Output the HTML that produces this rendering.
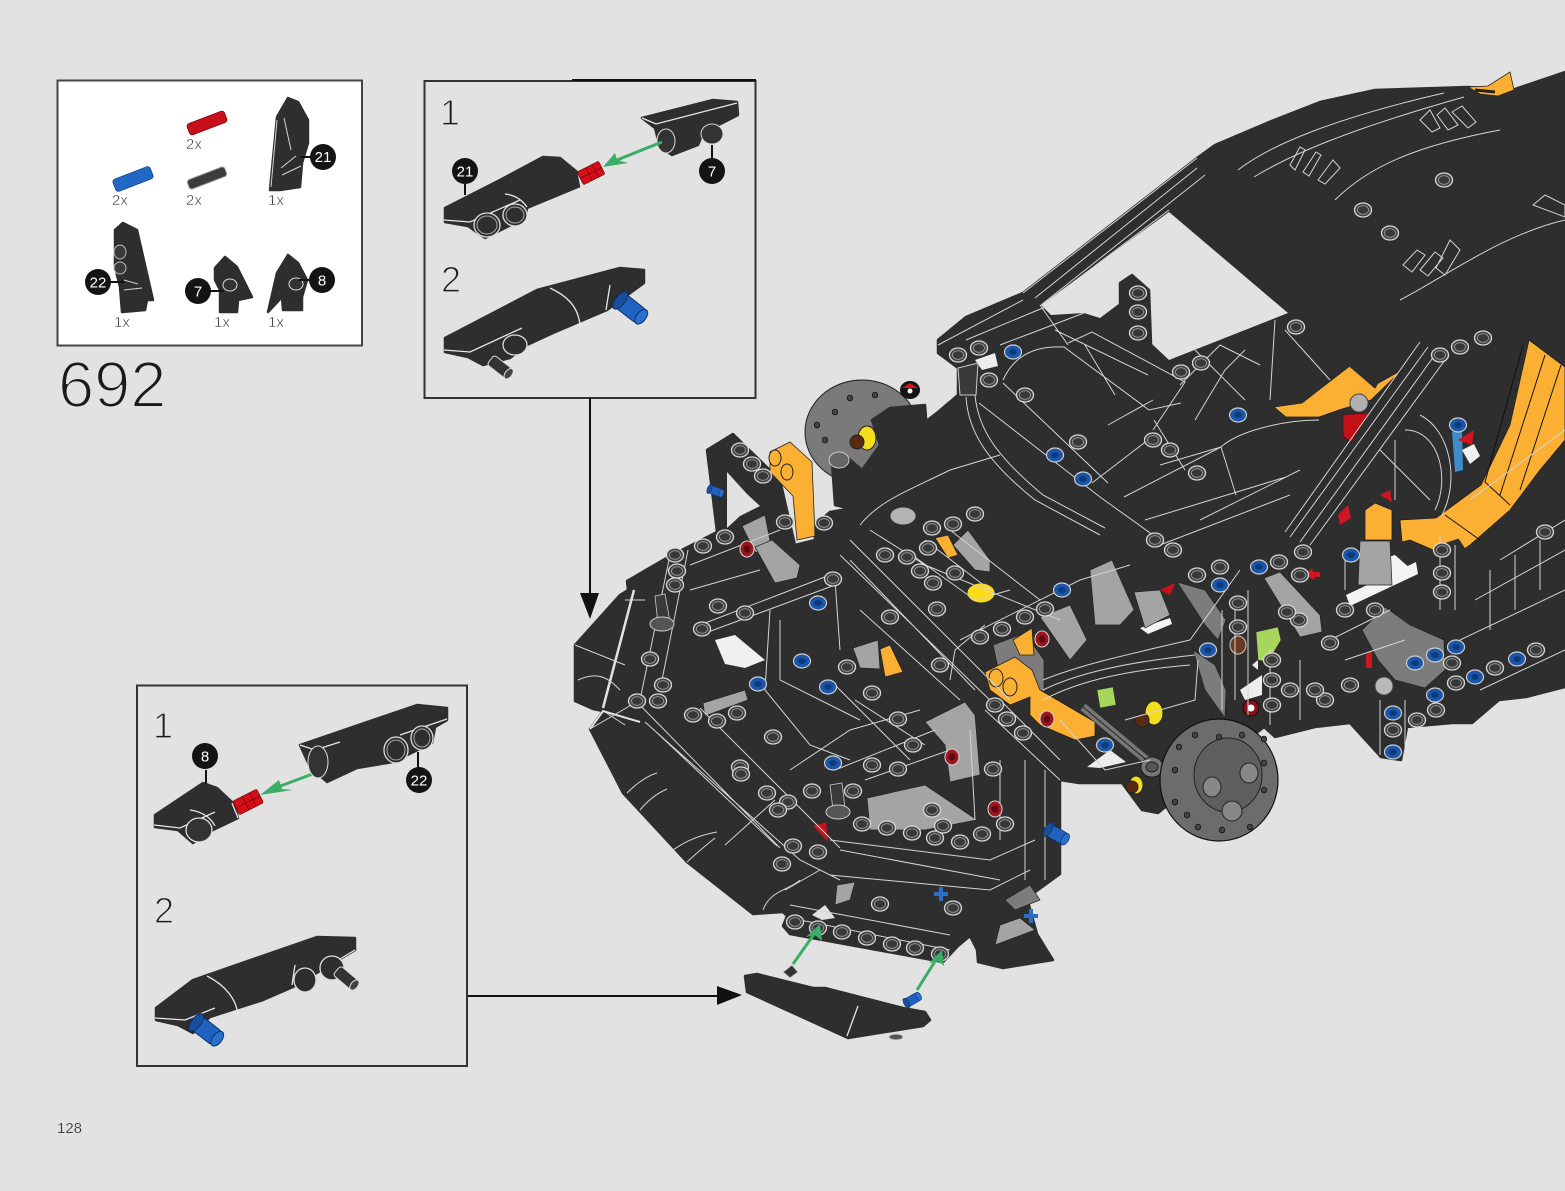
<!DOCTYPE html>
<html lang="en"><head><meta charset="utf-8"><title>692</title>
<style>
html,body{margin:0;padding:0;background:#e2e2e2}
svg{display:block}
text{font-family:"Liberation Sans",sans-serif}
.th{stroke:#e2e2e2}
.n{fill:#1a1a1a}
.q{font-size:15px;fill:#333;stroke:#fff;stroke-width:.4}
.c{font-size:15px;fill:#fff;text-anchor:middle}
.l{fill:none;stroke:#d4d4d4;stroke-width:1}
.w{fill:none;stroke:#e8e8e8;stroke-width:1.3}
.k{fill:none;stroke:#111;stroke-width:1}
.d{fill:#2e2e2e;stroke:#2e2e2e;stroke-width:2.500;stroke-linejoin:round}
.o{fill:#fbb034;stroke:#222;stroke-width:.8}
.g{fill:#a4a4a4;stroke:#222;stroke-width:.7}
.m{fill:#7c7c7c;stroke:#222;stroke-width:.7}
</style></head>
<body>
<svg width="1565" height="1191" viewBox="0 0 1565 1191" xmlns="http://www.w3.org/2000/svg">
<defs>
<g id="h"><ellipse rx="8.500" ry="7" fill="#444" stroke="#d8d8d8" stroke-width="1.3"/><ellipse rx="5.500" ry="4.300" fill="#383838" stroke="#a0a0a0" stroke-width=".8"/></g>
<g id="b"><ellipse rx="8.500" ry="7" fill="#1c56a8" stroke="#cfcfcf" stroke-width="1.2"/><ellipse rx="3.800" ry="3" fill="#0d3a7d"/></g>
<g id="r"><ellipse rx="7" ry="8" fill="#9c1520" stroke="#cfcfcf" stroke-width="1.1"/><ellipse rx="3.300" ry="3.800" fill="#5d0b12"/></g>
<g id="t"><ellipse rx="2.700" ry="2.900" fill="#444" stroke="#111" stroke-width=".8"/></g>
<g id="bp"><rect x="-13" y="-9" width="28" height="18" rx="4" fill="#1f62c0" stroke="#0a2f66"/><ellipse cx="-13" cy="0" rx="5" ry="11" fill="#184f9e" stroke="#0a2f66"/><ellipse cx="15" cy="0" rx="5" ry="9" fill="#2a70cc" stroke="#0a2f66"/></g>
<g id="rp"><rect x="-15" y="-9" width="30" height="18" rx="2" fill="#d40f18" stroke="#600" stroke-width=".8"/><path d="M-15 0H15M-3 -9V9M6 -9V9" stroke="#7c0008" stroke-width=".8"/></g>
</defs>
<rect width="1565" height="1191" fill="#e2e2e2"/>

<!-- parts box -->
<rect x="57.500" y="80.500" width="304.500" height="265" fill="#fff" stroke="#444" stroke-width="2"/>
<g>
<g transform="translate(207 123) rotate(-21)"><rect x="-20" y="-6" width="40" height="12" rx="3" fill="#c8101a" stroke="#7c0008" stroke-width=".7"/></g>
<g transform="translate(133 179) rotate(-21)"><rect x="-20" y="-6.500" width="40" height="13" rx="3" fill="#2168c6" stroke="#0c3c80" stroke-width=".7"/></g>
<g transform="translate(207 178) rotate(-21)"><rect x="-20" y="-5" width="40" height="10" rx="3" fill="#3c3c3c" stroke="#999" stroke-width="1"/></g>
<path class="d" d="M270 190 L277 117 L288 98 L298 102 L308 120 L308 143 L302 163 L300 187 L280 190 Z"/>
<path class="l" d="M284 118 L291 150 M281 168 L296 156 M282 175 L301 166 M271 187 L277 120"/>
<path class="d" d="M115 230 L123 223 L137 230 L153 300 L147 300 L145 310 L122 312 L120 287 L115 267 Z"/>
<ellipse cx="120" cy="252" rx="6" ry="7" fill="#3a3a3a" stroke="#bbb"/><ellipse cx="120" cy="268" rx="6" ry="6" fill="#3a3a3a" stroke="#bbb"/>
<path class="l" d="M124 280 L138 284 M124 290 L142 288"/>
<path class="d" d="M215 268 L225 257 L237 267 L252 297 L238 300 L237 312 L220 312 L220 290 L215 280 Z"/>
<ellipse cx="230" cy="285" rx="7" ry="6" fill="#333" stroke="#ddd"/>
<path class="d" d="M268 312 L277 273 L288 255 L298 263 L307 280 L302 297 L302 310 L283 310 L282 297 Z"/>
<ellipse cx="296" cy="284" rx="7" ry="6" fill="#333" stroke="#ddd"/>
<path stroke="#111" stroke-width="2" d="M300 157H312M108 282H124M208 291H224M298 280H312"/>
<circle cx="323" cy="157" r="13" fill="#141414"/><text class="c" x="323" y="162">21</text>
<circle cx="98" cy="282" r="13" fill="#141414"/><text class="c" x="98" y="287.500">22</text>
<circle cx="198" cy="291" r="13" fill="#141414"/><text class="c" x="198" y="296.500">7</text>
<circle cx="322" cy="280" r="13" fill="#141414"/><text class="c" x="322" y="285.500">8</text>
<text class="q" x="186" y="149">2x</text><text class="q" x="112" y="205">2x</text><text class="q" x="186" y="205">2x</text><text class="q" x="268" y="205">1x</text>
<text class="q" x="114" y="327">1x</text><text class="q" x="214" y="327">1x</text><text class="q" x="268" y="327">1x</text>
</g>
<text x="58" y="407" font-size="65" class="n th" stroke-width="2">692</text>
<text x="57" y="1133" font-size="15" fill="#222" stroke="#e2e2e2" stroke-width=".3">128</text>

<!-- step box 1 -->
<rect x="424.500" y="81" width="331" height="317" fill="none" stroke="#333" stroke-width="2"/>
<path d="M572 80H756" stroke="#111" stroke-width="2"/>
<text x="440" y="125" font-size="36" class="n th" stroke-width="1.200">1</text>
<text x="441" y="292" font-size="36" class="n th" stroke-width="1.200">2</text>
<path class="d" d="M445 208 L500 180 L543 157 L560 158 L577 172 L580 186 L527 208 L525 218 L485 238 L468 226 L445 222 Z"/>
<path class="w" d="M444 220 L470 222 L520 200 M505 194 C515 195 522 200 527 207 M578 172 L581 187"/>
<ellipse cx="487" cy="225" rx="13" ry="12" fill="#2e2e2e" stroke="#ddd" stroke-width="1.3"/><ellipse cx="487" cy="225" rx="10" ry="9" fill="#2e2e2e" stroke="#aaa"/><ellipse cx="515" cy="215" rx="12" ry="11" fill="#2e2e2e" stroke="#ddd" stroke-width="1.3"/><ellipse cx="515" cy="215" rx="9" ry="8" fill="#2e2e2e" stroke="#aaa"/>
<use href="#rp" transform="translate(591 173) rotate(-27) scale(.8)"/>
<path class="d" d="M642 118 L713 100 L737 102 L738 115 L703 133 L698 145 L672 155 L660 147 L655 128 Z"/>
<ellipse cx="666" cy="141" rx="9" ry="12" fill="#333" stroke="#ddd"/><ellipse cx="712" cy="134" rx="11" ry="10" fill="#333" stroke="#ddd"/>
<path class="w" d="M642 118 L656 124 L737 103"/>
<path d="M662 142 L612 162" stroke="#3aae66" stroke-width="3"/><path d="M603 167 L615 153 L617 160 L628 163 Z" fill="#3aae66"/>
<path stroke="#111" stroke-width="2" d="M465 184V195M712 145V158M590 398V598M467 996H720"/>
<circle cx="465" cy="171" r="13" fill="#141414"/><text class="c" x="465" y="176.500">21</text>
<circle cx="712" cy="171" r="13" fill="#141414"/><text class="c" x="712" y="176.500">7</text>

<path class="d" d="M445 338 L537 290 L620 268 L644 270 L644 283 L607 310 L553 333 L527 345 L510 358 L483 365 L468 357 L445 352 Z"/>
<path class="w" d="M444 350 L470 352 L522 328 M550 288 C565 295 578 305 580 325 M610 285 L606 310"/>
<ellipse cx="515" cy="345" rx="12" ry="10" fill="#2e2e2e" stroke="#ddd" stroke-width="1.3"/>
<g transform="translate(500 367) rotate(38)"><rect x="-12" y="-6" width="24" height="12" rx="3" fill="#333" stroke="#ddd"/><ellipse cx="11" cy="0" rx="3.500" ry="6" fill="#444" stroke="#ddd"/></g>
<use href="#bp" transform="translate(630 308) rotate(38) scale(.95)"/>

<!-- step box 2 -->
<rect x="137" y="685.500" width="330" height="380.500" fill="none" stroke="#333" stroke-width="2"/>
<text x="153" y="738" font-size="36" class="n th" stroke-width="1.200">1</text>
<text x="154" y="923" font-size="36" class="n th" stroke-width="1.200">2</text>
<path class="d" d="M155 815 L203 783 L217 788 L233 803 L238 818 L213 830 L193 843 L178 830 L155 827 Z"/>
<path class="w" d="M154 825 L180 828 L215 812 M190 810 C205 812 212 820 215 826 M232 803 L238 818"/>
<ellipse cx="199" cy="830" rx="13" ry="12" fill="#333" stroke="#ddd" stroke-width="1.3"/>
<use href="#rp" transform="translate(248 802) rotate(-27) scale(.9 .85)"/>
<path d="M323 770 L270 790" stroke="#3aae66" stroke-width="3"/><path d="M260 795 L279 780 L282 789 L293 790 Z" fill="#3aae66"/>
<path class="d" d="M300 745 L417 705 L447 708 L447 720 L435 727 L432 743 L393 762 L357 768 L327 782 L310 767 Z"/>
<path class="w" d="M300 745 L315 750 L340 742 M400 735 L447 719"/>
<ellipse cx="318" cy="762" rx="10" ry="16" fill="#333" stroke="#ddd"/>
<ellipse cx="396" cy="750" rx="12" ry="13" fill="#2e2e2e" stroke="#ddd" stroke-width="1.3"/><ellipse cx="396" cy="750" rx="9" ry="10" fill="#2e2e2e" stroke="#aaa"/><ellipse cx="422" cy="738" rx="11" ry="12" fill="#2e2e2e" stroke="#ddd" stroke-width="1.3"/><ellipse cx="422" cy="738" rx="8" ry="9" fill="#2e2e2e" stroke="#aaa"/>
<path stroke="#111" stroke-width="2" d="M206 770V784M418 752V768"/>
<circle cx="205" cy="756" r="13" fill="#141414"/><text class="c" x="205" y="761.500">8</text>
<circle cx="419" cy="780" r="13" fill="#141414"/><text class="c" x="419" y="785.500">22</text>
<path class="d" d="M156 1008 L193 980 L317 937 L355 938 L355 950 L330 965 L293 987 L263 1000 L210 1017 L193 1033 L178 1025 L156 1020 Z"/>
<path class="w" d="M155 1018 L185 1020 L215 1008 M207 976 C225 985 238 1000 238 1018 M295 965 L292 985 M355 950 L330 965"/>
<ellipse cx="305" cy="980" rx="11" ry="12" fill="#2e2e2e" stroke="#ddd" stroke-width="1.3"/><ellipse cx="332" cy="968" rx="12" ry="12" fill="#2e2e2e" stroke="#ddd" stroke-width="1.3"/>
<g transform="translate(346 978) rotate(40)"><rect x="-12" y="-6" width="24" height="12" rx="3" fill="#333" stroke="#ddd"/><ellipse cx="11" cy="0" rx="3.500" ry="6" fill="#444" stroke="#ddd"/></g>
<use href="#bp" transform="translate(206 1030) rotate(38) scale(.95)"/>

<!-- arrows -->
<path d="M580 593 L599 593 L590 619 Z" fill="#111"/>
<path d="M717 986 L742 995 L717 1005 Z" fill="#111"/>

<!-- rotor back -->
<ellipse cx="862" cy="432" rx="57" ry="52" fill="#7a7a7a" stroke="#222"/>
<use href="#t" x="825" y="440"/><use href="#t" x="835" y="412"/><use href="#t" x="817" y="425"/><use href="#t" x="875" y="395"/><use href="#t" x="850" y="398"/>

<!-- model silhouette -->
<path class="d" d="M1565 72 L1512 90 L1468 87 L1375 90 L1320 102 L1274 120 L1215 145 L1197 158 L1023 293 L966 317 L938 340 L938 353 L958 368 L958 395 L938 412 L925 422 L925 455 L880 470 L853 508 L830 512 L815 525 L815 540 L795 545 L780 480 L733 434 L707 450 L717 532 L670 556 L627 581 L628 590 L620 595 L575 645 L575 701 L593 709 L603 711 L590 729 L623 793 L687 862 L753 914 L783 912 L787 916 L783 926 L790 934 L943 962 L958 946 L970 936 L977 950 L978 962 L1003 968 L1053 960 L1037 934 L1027 898 L1060 874 L1060 780 L1079 783 L1122 783 L1142 810 L1158 813 L1264 727 L1275 737 L1315 727 L1350 723 L1381 757 L1401 760 L1407 727 L1452 723 L1472 723 L1499 700 L1526 697 L1565 687 Z"/>
<!-- dark frame over the rear rotor -->
<path class="d" d="M872 420 L890 408 L925 405 L930 470 L880 480 L855 510 L835 505 L832 462 L848 458 L862 470 L880 445 Z"/>
<ellipse cx="839" cy="460" rx="10" ry="8" fill="#666" stroke="#ccc"/>

<!-- see-through gaps -->
<path fill="#e2e2e2" d="M1169 212 L1288 313 L1169 360 L1151 343 L1149 290 L1132 275 L1120 283 L1120 303 L1100 318 L1084 313 L1051 315 L1041 305 Z"/>
<path class="d" d="M1120 283 L1132 275 L1149 290 L1151 343 L1138 345 L1120 303 Z"/>
<path fill="#e2e2e2" d="M727 472 L747 494 L760 506 L740 516 L727 528 Z"/>
<path fill="#f0f0f0" d="M715 640 L735 635 L765 660 L745 668 L725 664 Z"/>
<path fill="#e2e2e2" d="M812 915 L825 905 L835 918 L822 920 Z"/>
<path fill="none" stroke="#e2e2e2" stroke-width="2.500" d="M634 590 L603 708"/>
<path fill="none" stroke="#e2e2e2" stroke-width="2" d="M590 729 L603 711 L640 722"/>
<path fill="#ededed" d="M975 360 L995 353 L998 366 L982 370 Z"/>
<path fill="#f4f4f4" d="M1346 595 L1416 562 L1418 574 L1350 606 Z"/>
<path fill="#f4f4f4" d="M1378 560 L1395 555 L1412 570 L1385 580 Z"/>
<path fill="#f4f4f4" d="M1140 628 L1170 618 L1172 624 L1148 634 Z"/>
<path fill="#ececec" d="M1087 767 L1110 750 L1126 762 L1100 768 Z"/>
<path fill="#ededed" d="M1252 665 L1258 660 L1258 670 Z M1240 690 L1262 675 L1262 695 L1245 700 Z"/>

<!-- colour regions -->
<path class="o" d="M1529 340 L1565 367 L1565 440 L1540 470 L1510 510 L1470 545 L1452 558 L1410 540 L1402 542 L1400 520 L1436 518 L1481 485 L1510 425 Z"/>
<path class="k" d="M1523 345 L1485 482 L1510 505 M1545 355 L1500 495 M1561 365 L1520 490 M1445 515 L1480 540"/>
<path class="o" d="M1274 407 L1302 403 L1351 365 L1375 385 L1402 370 L1371 400 L1339 410 L1319 417 L1286 417 Z"/>
<path class="d" d="M1173 203 L1189 192 L1400 333 L1375 387 L1347 363 Z"/>
<path class="d" d="M1440 546 L1458 540 L1468 555 L1462 620 L1434 620 Z" />
<path class="o" d="M1365 510 L1375 503 L1392 510 L1392 540 L1365 540 Z"/>
<path class="g" d="M1360 541 L1390 541 L1392 585 L1358 585 Z"/>
<path d="M1343 415 L1369 413 L1351 442 L1343 436 Z" fill="#c30f18" stroke="#600" stroke-width=".6"/>
<circle cx="1359" cy="403" r="9" fill="#b0b0b0" stroke="#444"/>
<path fill="#3d8cc8" d="M1452 432 L1462 430 L1463 470 L1455 472 Z"/>
<path fill="#d01420" d="M1458 440 L1474 430 L1472 445 Z"/>
<path fill="#f0f0f0" d="M1462 450 L1474 444 L1480 456 L1470 464 Z"/>
<path d="M1338 515 L1348 505 L1351 518 L1340 525 Z" fill="#d01420"/>
<path d="M1380 495 L1390 490 L1392 502 Z" fill="#d01420"/>

<path class="o" d="M770 452 L790 442 L812 462 L815 536 L797 540 L793 496 L770 472 Z"/>
<ellipse cx="775" cy="458" rx="6" ry="8" fill="#fbb034" stroke="#222"/><ellipse cx="787" cy="472" rx="6" ry="8" fill="#fbb034" stroke="#222"/>
<path class="g" d="M742 526 L765 515 L773 556 L755 552 Z"/>
<path class="g" d="M755 547 L772 540 L800 565 L797 578 L775 583 Z"/>
<path class="g" d="M703 703 L745 690 L748 700 L705 716 Z"/>
<path class="g" d="M925 722 L965 702 L975 715 L980 775 L950 782 L945 745 Z"/>
<path class="g" d="M867 798 L925 785 L977 820 L925 830 L870 830 Z"/>
<path class="g" d="M853 648 L878 640 L880 669 L860 668 Z"/>
<path class="o" d="M880 649 L890 645 L903 672 L885 677 Z"/>
<path d="M813 826 L826 822 L828 842 Z" fill="#cc1018"/>
<path class="g" d="M953 545 L968 530 L990 560 L990 572 L975 570 Z"/>
<path class="o" d="M935 538 L948 535 L958 555 L948 558 Z"/>
<path class="g" d="M837 885 L855 882 L850 900 L835 905 Z"/>
<path class="g" d="M1000 925 L1020 918 L1035 930 L995 945 Z"/>
<path class="m" d="M1005 900 L1030 885 L1040 900 L1015 910 Z"/>

<path class="g" d="M1040 617 L1070 605 L1087 640 L1070 660 Z"/>
<path class="g" d="M1090 570 L1112 560 L1134 610 L1120 625 L1095 625 Z"/>
<path class="g" d="M1134 592 L1160 590 L1170 615 L1145 628 Z"/>
<path class="m" d="M1177 582 L1205 590 L1226 620 L1218 640 L1205 625 Z"/>
<path class="m" d="M1193 650 L1215 665 L1226 690 L1225 718 L1205 690 Z"/>
<path class="m" d="M993 645 L1025 633 L1044 660 L1044 695 L1005 700 Z"/>
<path class="o" d="M1013 640 L1032 628 L1034 655 L1020 655 Z"/>
<path class="o" d="M985 672 L1015 657 L1032 670 L1040 690 L1095 722 L1095 736 L1075 740 L1040 725 L1030 715 L1030 697 L1010 705 L990 690 Z"/>
<ellipse cx="996" cy="678" rx="7" ry="9" fill="#fbb034" stroke="#222"/><ellipse cx="1010" cy="687" rx="7" ry="9" fill="#fbb034" stroke="#222"/>
<path class="g" d="M1264 578 L1280 572 L1320 615 L1322 632 L1300 637 Z"/>
<path class="m" d="M1362 630 L1385 607 L1410 625 L1444 640 L1445 670 L1425 688 L1395 680 L1378 660 Z"/>
<path d="M1256 632 L1278 627 L1281 640 L1268 662 L1258 660 Z" fill="#a8d65c" stroke="#333" stroke-width=".6"/>
<path d="M1097 690 L1113 687 L1116 705 L1100 708 Z" fill="#a8d65c" stroke="#333" stroke-width=".6"/>
<ellipse cx="1238" cy="645" rx="8" ry="9" fill="#6b3a22" stroke="#ccc"/>
<ellipse cx="1154" cy="713" rx="9" ry="12" fill="#f4dc1e" stroke="#222"/>
<ellipse cx="1142" cy="720" rx="7" ry="7" fill="#5a2a10" stroke="#222"/>
<ellipse cx="1136" cy="785" rx="7" ry="9" fill="#f4dc1e" stroke="#222"/>
<ellipse cx="1132" cy="787" rx="6" ry="6" fill="#5a2a10" stroke="#222"/>
<ellipse cx="867" cy="438" rx="9" ry="12" fill="#f4dc1e" stroke="#222"/><ellipse cx="857" cy="442" rx="7" ry="7" fill="#5a2a10" stroke="#222"/>
<ellipse cx="1251" cy="708" rx="8" ry="8" fill="#8a1018" stroke="#111"/><circle cx="1251" cy="708" r="3.500" fill="#fff"/>
<ellipse cx="910" cy="390" rx="10" ry="9" fill="#141414"/><path d="M902 388 L918 388 L910 383 Z" fill="#d01420"/><circle cx="910" cy="391" r="2.500" fill="#fff"/>
<path d="M1305 575 L1312 568 L1315 580 Z M1298 572 L1320 572 L1320 577 L1298 577 Z" fill="#d01420"/>
<path d="M1366 655 L1372 650 L1372 668 L1366 668 Z" fill="#d01420"/>
<path d="M1160 590 L1175 583 L1170 595 Z" fill="#cc1018"/>
<ellipse cx="903" cy="516" rx="13" ry="9" fill="#b4b4b4" stroke="#333"/>
<ellipse cx="981" cy="593" rx="14" ry="10" fill="#fddc14" stroke="#333"/>
<circle cx="1384" cy="686" r="9" fill="#b8b8b8" stroke="#444"/>

<!-- rods, rotor front -->
<path d="M1083 707 L1150 763" stroke="#777" stroke-width="8"/><path d="M1083 707 L1150 763" stroke="#222" stroke-width="1"/>
<ellipse cx="1152" cy="767" rx="11" ry="10" fill="#777" stroke="#222"/><ellipse cx="1152" cy="767" rx="6" ry="5" fill="#555" stroke="#222"/>
<ellipse cx="1219" cy="780" rx="59" ry="61" fill="#6c6c6c" stroke="#111" stroke-width="1.2"/>
<ellipse cx="1228" cy="775" rx="34" ry="37" fill="#5e5e5e" stroke="#222"/>
<ellipse cx="1212" cy="787" rx="9" ry="10" fill="#888" stroke="#222"/><ellipse cx="1249" cy="773" rx="9" ry="10" fill="#888" stroke="#222"/><ellipse cx="1232" cy="811" rx="10" ry="10" fill="#888" stroke="#222"/>
<g><use href="#t" x="1175" y="770"/><use href="#t" x="1179" y="747"/><use href="#t" x="1195" y="735"/><use href="#t" x="1219" y="737"/><use href="#t" x="1242" y="735"/><use href="#t" x="1264" y="739"/><use href="#t" x="1264" y="763"/><use href="#t" x="1264" y="790"/><use href="#t" x="1250" y="827"/><use href="#t" x="1222" y="830"/><use href="#t" x="1198" y="827"/><use href="#t" x="1175" y="802"/><use href="#t" x="1187" y="815"/></g>

<!-- body lines: roof -->
<path class="l" d="M1238 170 C1270 145 1335 118 1444 93 M1254 177 C1290 155 1347 130 1464 97 M1400 300 C1440 280 1500 235 1565 220 M1335 200 C1370 165 1420 145 1500 130 1530 125 1565 135 M1367 227 L1497 187 L1565 177 M1387 240 C1440 205 1500 190 1565 185 M1209 190 L1400 333 M1189 192 L1396 337 M1240 225 L1375 370 M1197 158 L1215 145 M1215 146 L1238 170 L1254 177 L1300 220 L1335 200 M1300 220 L1400 300 M1335 225 L1355 265 L1385 280 M1440 355 L1400 330 L1408 305 M1497 187 L1500 125 M1480 140 L1560 180 M1436 140 L1480 160 L1500 186 M1300 232 C1320 215 1345 225 1335 260 M1483 338 L1500 320 L1565 285 M1470 320 L1520 250 L1565 240"/>
<g class="l"><path d="M1290 165 L1300 147 L1305 150 L1295 170 Z M1303 172 L1316 152 L1321 155 L1309 176 Z M1318 180 L1333 160 L1340 168 L1325 184 Z"/><path d="M1403 265 L1417 250 L1425 255 L1412 272 Z M1420 270 L1435 252 L1443 258 L1428 276 Z M1436 268 L1450 240 L1460 250 L1445 275 Z"/><path d="M1420 120 L1430 110 L1440 128 L1432 132 Z M1437 115 L1445 108 L1458 125 L1448 130 Z M1452 112 L1462 106 L1476 122 L1468 128 Z"/><path d="M1533 205 L1545 195 L1565 205 L1565 217 Z"/></g>
<path class="l" d="M1023 293 L1197 158 M1035 298 L1197 168 M1041 305 L1205 175 M1043 305 L1169 210 M966 340 L1050 305 M938 345 L1023 300 M1040 305 L1068 345 M1084 313 L1000 345"/>
<!-- hood bulges -->
<path class="l" d="M1003 380 C1012 360 1030 345 1064 347 L1149 410 L1181 403 M1068 343 L1092 332 L1185 382 L1153 430 M1003 383 L1108 483 M1092 483 L1157 433 M979 403 L1100 497 L1153 535 M966 397 C968 430 985 460 1035 500 L1100 535 M975 395 C978 428 995 455 1043 495 L1105 528 M1221 447 C1240 430 1286 420 1319 420 M1124 497 L1221 447 M1145 520 L1286 477 M1160 465 L1221 447 L1236 495 M1160 545 L1290 495 M1200 520 L1300 470 M1055 330 L1148 375 M1085 345 L1115 395 M1108 425 L1153 400 M1154 420 L1185 470 M1195 420 L1225 370 L1245 350 M1275 320 L1270 400 M1285 330 L1330 380 M1195 350 L1245 400 M1180 385 L1220 345 L1260 365"/>
<path class="l" d="M1290 537 L1428 347 M1300 542 L1437 352 M1310 545 L1445 360 M1285 532 L1420 342"/>
<path class="l" d="M1405 430 C1440 430 1450 480 1435 510 M1420 415 C1450 430 1460 480 1442 515 M1380 450 L1430 500 M1395 440 L1395 500"/>
<path class="l" d="M1470 500 L1565 430 M1500 560 L1565 520 M1475 600 L1565 550 M1460 640 L1565 590 M1490 570 L1490 630 M1515 555 L1515 610 M1540 540 L1540 590 M1480 690 L1565 650"/>
<!-- mid block lines -->
<path class="l" d="M860 525 C880 500 910 490 950 470 L1000 455 M850 540 L1010 700 M840 555 L995 705 M850 560 L975 690 M870 530 L925 565 L1060 620 M960 640 L1080 580 L1130 565 M985 625 L955 650 L950 680 M905 550 L975 600 L1010 590 M925 540 L990 590 M950 530 L1040 600 M1043 700 C1080 680 1130 670 1190 665 M1043 690 C1080 672 1130 662 1195 655 M1043 680 C1080 665 1125 655 1190 640 M1190 640 L1240 570 M1125 720 L1195 700 L1198 660 M1060 720 L1105 770 L1150 760 M1000 700 L1060 760 M985 710 L1060 780 M1235 600 L1235 700 M1248 590 L1248 715 M1222 610 L1222 710 M1270 650 L1270 725 M1300 660 L1300 720 M1345 660 L1405 640 M1330 640 L1390 610 M1345 560 L1345 590 M1440 535 L1440 610 M1455 545 L1455 610 M1380 700 L1380 755 M1405 700 L1405 755"/>
<!-- front lines -->
<path class="l" d="M575 645 L625 665 M578 680 C600 670 610 680 620 690 M625 600 L645 600 M590 729 L640 700 M605 712 L625 725 M627 793 C640 780 650 775 657 773 M640 810 C650 798 660 792 667 789 M673 850 C690 838 705 834 717 832 M687 862 C700 850 710 842 715 838 M725 845 L775 800 M653 729 L777 846 M645 722 L800 860 L840 880 M635 700 L780 848 M700 708 L840 848 M763 910 C770 890 790 890 800 880 M670 555 L640 700 M688 550 L660 690 M690 565 L780 530 M690 590 L760 570 M700 625 L830 575 M700 635 L835 585 M770 610 L765 690 L810 745 L850 760 M780 620 L780 680 L860 720 M835 580 L840 650 M830 680 L910 760 M860 610 L960 700 M855 700 L925 745 M790 770 L850 730 L920 710 M835 770 L935 730 M865 780 L950 750 M840 850 L1000 880 M830 875 L990 890 L1030 870 M830 840 L990 860 L1035 840 M790 905 L950 935 M785 890 L820 870 M1025 760 L1025 880 M1045 770 L1045 880 M970 730 L975 820 M1000 760 L1000 840 M800 920 L950 950"/>

<!-- holes -->
<g>
<use href="#h" x="675" y="555"/><use href="#h" x="703" y="546"/><use href="#h" x="725" y="537"/><use href="#h" x="677" y="571"/><use href="#h" x="675" y="585"/><use href="#h" x="650" y="659"/><use href="#h" x="663" y="685"/><use href="#h" x="637" y="701"/><use href="#h" x="658" y="701"/>
<use href="#h" x="740" y="450"/><use href="#h" x="752" y="464"/><use href="#h" x="763" y="476"/><use href="#h" x="785" y="522"/><use href="#h" x="824" y="523"/>
<use href="#h" x="702" y="629"/><use href="#h" x="718" y="606"/><use href="#h" x="745" y="613"/><use href="#h" x="833" y="579"/>
<use href="#h" x="717" y="721"/><use href="#h" x="737" y="713"/><use href="#h" x="773" y="737"/><use href="#h" x="740" y="767"/><use href="#h" x="767" y="793"/><use href="#h" x="693" y="715"/>
<use href="#h" x="788" y="802"/><use href="#h" x="812" y="791"/><use href="#h" x="793" y="846"/><use href="#h" x="818" y="852"/><use href="#h" x="782" y="864"/>
<use href="#h" x="862" y="824"/><use href="#h" x="887" y="828"/><use href="#h" x="912" y="833"/><use href="#h" x="935" y="838"/><use href="#h" x="960" y="842"/><use href="#h" x="982" y="834"/><use href="#h" x="1005" y="824"/>
<use href="#h" x="795" y="922"/><use href="#h" x="818" y="928"/><use href="#h" x="842" y="932"/><use href="#h" x="867" y="938"/><use href="#h" x="892" y="944"/><use href="#h" x="915" y="948"/><use href="#h" x="940" y="954"/>
<use href="#h" x="880" y="904"/><use href="#h" x="953" y="908"/>
<use href="#h" x="853" y="791"/><use href="#h" x="872" y="765"/><use href="#h" x="898" y="769"/><use href="#h" x="913" y="745"/>
<use href="#h" x="995" y="705"/><use href="#h" x="1007" y="719"/><use href="#h" x="1023" y="733"/><use href="#h" x="993" y="769"/><use href="#h" x="932" y="810"/><use href="#h" x="943" y="826"/>
<use href="#h" x="907" y="557"/><use href="#h" x="928" y="548"/><use href="#h" x="920" y="571"/><use href="#h" x="955" y="573"/><use href="#h" x="933" y="583"/><use href="#h" x="975" y="514"/><use href="#h" x="932" y="528"/><use href="#h" x="953" y="524"/>
<use href="#h" x="980" y="637"/><use href="#h" x="1002" y="629"/><use href="#h" x="1025" y="617"/><use href="#h" x="1045" y="609"/>
<use href="#h" x="885" y="555"/><use href="#h" x="890" y="617"/><use href="#h" x="940" y="665"/><use href="#h" x="937" y="609"/><use href="#h" x="847" y="667"/><use href="#h" x="872" y="693"/><use href="#h" x="898" y="719"/><use href="#h" x="741" y="774"/><use href="#h" x="778" y="810"/>
<use href="#h" x="1197" y="575"/><use href="#h" x="1220" y="567"/><use href="#h" x="1279" y="562"/><use href="#h" x="1303" y="552"/>
<use href="#h" x="1442" y="550"/><use href="#h" x="1442" y="573"/><use href="#h" x="1442" y="592"/><use href="#h" x="1452" y="663"/><use href="#h" x="1456" y="683"/><use href="#h" x="1393" y="730"/><use href="#h" x="1495" y="668"/><use href="#h" x="1536" y="650"/><use href="#h" x="1436" y="710"/><use href="#h" x="1417" y="720"/><use href="#h" x="1272" y="660"/><use href="#h" x="1272" y="680"/><use href="#h" x="1272" y="705"/><use href="#h" x="1238" y="603"/><use href="#h" x="1238" y="627"/><use href="#h" x="1330" y="643"/><use href="#h" x="1299" y="620"/><use href="#h" x="1287" y="612"/><use href="#h" x="1345" y="610"/><use href="#h" x="1375" y="610"/><use href="#h" x="1325" y="700"/><use href="#h" x="1350" y="685"/><use href="#h" x="1315" y="690"/><use href="#h" x="1290" y="690"/>
<use href="#h" x="958" y="355"/><use href="#h" x="979" y="348"/><use href="#h" x="1138" y="293"/><use href="#h" x="1138" y="312"/><use href="#h" x="1138" y="333"/><use href="#h" x="989" y="380"/><use href="#h" x="1181" y="372"/><use href="#h" x="1201" y="363"/><use href="#h" x="1025" y="395"/><use href="#h" x="1078" y="442"/><use href="#h" x="1363" y="210"/><use href="#h" x="1444" y="180"/><use href="#h" x="1390" y="233"/><use href="#h" x="1440" y="355"/><use href="#h" x="1460" y="347"/><use href="#h" x="1483" y="338"/><use href="#h" x="1545" y="532"/><use href="#h" x="1296" y="327"/><use href="#h" x="1153" y="440"/><use href="#h" x="1170" y="450"/><use href="#h" x="1173" y="550"/><use href="#h" x="1197" y="473"/><use href="#h" x="1155" y="540"/><use href="#h" x="1300" y="575"/>
</g>
<g>
<use href="#b" x="818" y="603"/><use href="#b" x="802" y="661"/><use href="#b" x="828" y="687"/><use href="#b" x="758" y="684"/><use href="#b" x="833" y="763"/>
<use href="#b" x="1013" y="352"/><use href="#b" x="1055" y="455"/><use href="#b" x="1083" y="479"/><use href="#b" x="1238" y="415"/><use href="#b" x="1458" y="425"/><use href="#b" x="1351" y="555"/><use href="#b" x="1259" y="567"/>
<use href="#b" x="1456" y="647"/><use href="#b" x="1435" y="695"/><use href="#b" x="1415" y="663"/><use href="#b" x="1435" y="655"/><use href="#b" x="1393" y="713"/><use href="#b" x="1393" y="752"/><use href="#b" x="1475" y="677"/><use href="#b" x="1517" y="659"/><use href="#b" x="1062" y="590"/><use href="#b" x="1208" y="650"/><use href="#b" x="1105" y="745"/><use href="#b" x="1220" y="585"/>
<use href="#r" x="747" y="549"/><use href="#r" x="995" y="809"/><use href="#r" x="952" y="757"/><use href="#r" x="1042" y="639"/><use href="#r" x="1047" y="719"/>
</g>
<path fill="#2d6fc4" d="M934 892h5v-5h4v5h5v4h-5v5h-4v-5h-5z"/><path fill="#2d6fc4" d="M1024 914h5v-5h4v5h5v4h-5v5h-4v-5h-5z"/>
<!-- pins -->
<path d="M655 596 L665 594 L670 622 L658 624 Z" fill="#3a3a3a" stroke="#ccc" stroke-width=".8"/>
<ellipse cx="662" cy="624" rx="12" ry="7" fill="#555" stroke="#ccc"/>
<path d="M830 785 L842 783 L845 808 L833 810 Z" fill="#3a3a3a" stroke="#ccc" stroke-width=".8"/>
<ellipse cx="838" cy="812" rx="12" ry="7" fill="#555" stroke="#ccc"/>
<use href="#bp" transform="translate(1056 834) rotate(30) scale(.7)"/>
<use href="#bp" transform="translate(715 491) rotate(20) scale(.45)"/>

<!-- yellow top -->
<path class="o" d="M1468 87 L1488 86 L1510 72 L1514 90 L1498 96 L1480 94 Z"/>
<path d="M1475 90 L1495 92" stroke="#222" stroke-width="3"/>
<!-- hose end -->
<path d="M958 368 L978 363 L976 395 L960 395 Z" fill="#3a3a3a" stroke="#ccc"/>

<!-- loose bumper piece -->
<path class="d" d="M745 976 L757 974 L813 988 L825 988 L903 1008 L925 1012 L930 1020 L923 1026 L848 1038 L747 992 Z"/>
<path class="w" d="M858 1006 L847 1036"/>
<ellipse cx="896" cy="1037" rx="7" ry="3" fill="#555" stroke="#ccc"/>
<path d="M793 964 L817 930" stroke="#3aae66" stroke-width="3"/><path d="M820 924 L822 941 L815 935 L806 937 Z" fill="#3aae66"/>
<path d="M917 990 L939 955" stroke="#3aae66" stroke-width="3"/><path d="M942 950 L944 966 L938 961 L929 963 Z" fill="#3aae66"/>
<path d="M783 972 L792 965 L798 972 L790 978 Z" fill="#333" stroke="#ccc"/>
<use href="#bp" transform="translate(912 1000) rotate(-30) scale(.5)"/>
</svg>
</body></html>
